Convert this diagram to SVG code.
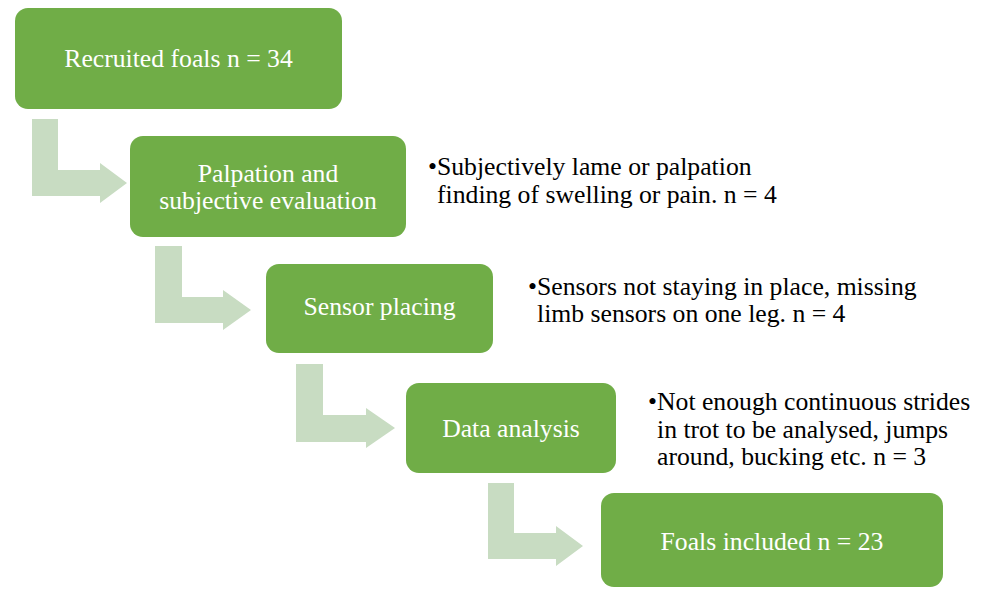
<svg xmlns="http://www.w3.org/2000/svg" width="990" height="590" viewBox="0 0 990 590">
  <style>
    .box { fill: #70ad47; }
    .arrow { fill: #c8dcc2; }
    .label { font-family: 'Liberation Serif', 'DejaVu Serif', serif; font-size: 25.7px; fill: #ffffff; text-anchor: middle; }
    .note { font-family: 'Liberation Serif', 'DejaVu Serif', serif; font-size: 25.7px; fill: #000000; }
  </style>
  <rect width="990" height="590" fill="#ffffff"/>
  <g id="connectors">
    <path class="arrow" d="M32,119 H58 V170 H100 V163 L127,183 L100,203 V196 H32 Z"/>
    <path class="arrow" d="M155,246 H182 V297 H223 V290 L251,310 L223,330 V323 H155 Z"/>
    <path class="arrow" d="M296,364 H323 V415 H366 V408 L395,428 L366,448 V442 H296 Z"/>
    <path class="arrow" d="M488,483 H514 V533 H556 V526 L583,546 L556,566 V559 H488 Z"/>
  </g>
  <g id="recruited">
    <rect class="box" x="15" y="8" width="327" height="101" rx="13"/>
    <text class="label" x="178.5" y="67">Recruited foals n = 34</text>
  </g>
  <g id="palpation">
    <rect class="box" x="130" y="136" width="276" height="101" rx="13"/>
    <text class="label" x="268" y="182">Palpation and</text>
    <text class="label" x="268" y="208.5">subjective evaluation</text>
  </g>
  <g id="sensor">
    <rect class="box" x="266" y="264" width="227" height="89" rx="13"/>
    <text class="label" x="379.5" y="315">Sensor placing</text>
  </g>
  <g id="analysis">
    <rect class="box" x="406" y="383" width="210" height="90" rx="13"/>
    <text class="label" x="511" y="437">Data analysis</text>
  </g>
  <g id="included">
    <rect class="box" x="601" y="493" width="342" height="94" rx="13"/>
    <text class="label" x="772" y="550">Foals included n = 23</text>
  </g>
  <g id="note1">
    <text class="note" x="428" y="175">•Subjectively lame or palpation</text>
    <text class="note" x="437" y="203">finding of swelling or pain. n = 4</text>
  </g>
  <g id="note2">
    <text class="note" x="528" y="295">•Sensors not staying in place, missing</text>
    <text class="note" x="537" y="322">limb sensors on one leg. n = 4</text>
  </g>
  <g id="note3">
    <text class="note" x="648" y="410">•Not enough continuous strides</text>
    <text class="note" x="657" y="438">in trot to be analysed, jumps</text>
    <text class="note" x="657" y="465">around, bucking etc. n = 3</text>
  </g>
</svg>
